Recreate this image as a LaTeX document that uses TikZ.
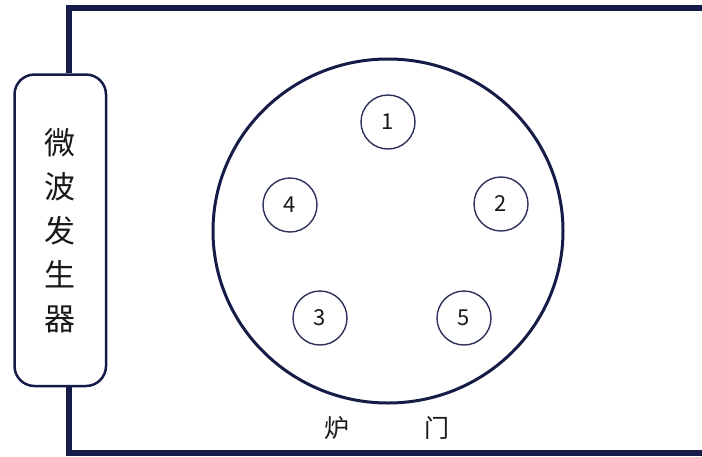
\documentclass[tikz,border=0pt]{standalone}
\usepackage{fontspec}
\setmainfont{Noto Sans CJK SC}
\definecolor{navy}{RGB}{22,28,72}
\definecolor{ringc}{RGB}{45,50,90}
\definecolor{txt}{RGB}{25,25,25}
\begin{document}
\begin{tikzpicture}[x=1pt,y=-1pt,
  wall/.style={draw=navy,line width=5.5pt,line join=miter},
  genbox/.style={draw=navy,line width=2.5pt,rounded corners=20pt,fill=white,
    minimum width=91.5pt,minimum height=311.5pt,inner sep=0pt,align=center,
    text=txt,font=\fontsize{31}{44}\selectfont},
  sample/.style={circle,draw=ringc,line width=1.4pt,minimum size=54pt,inner sep=0pt,
    text=txt,font=\fontsize{22}{26}\selectfont},
  lbl/.style={text=txt,font=\fontsize{25}{28}\selectfont,inner sep=0pt}]
\useasboundingbox (0,0) rectangle (702,456);
\fill[white] (0,0) rectangle (702,456);
\coordinate (tl) at (69,8);
\coordinate (tr) at (720,8);
\coordinate (bl) at (69,453);
\coordinate (br) at (720,453);
\node[genbox] (gen) at (60.25,230.25) {微\\波\\发\\生\\器};
\draw[wall] (gen.north -| tl) -- (tl) -- (tr);
\draw[wall] (gen.south -| bl) -- (bl) -- (br);
\draw[navy,line width=3pt] (388,231) ellipse [x radius=175pt,y radius=172pt];
\node[sample] (s1) at (388,122) {1};
\node[sample] (s2) at (501,204) {2};
\node[sample] (s3) at (320,318) {3};
\node[sample] (s4) at (290,205) {4};
\node[sample] (s5) at (464,318) {5};
\node[lbl] (lu) at (337,428) {炉};
\node[lbl] (men) at (437,428) {门};
\end{tikzpicture}
\end{document}
